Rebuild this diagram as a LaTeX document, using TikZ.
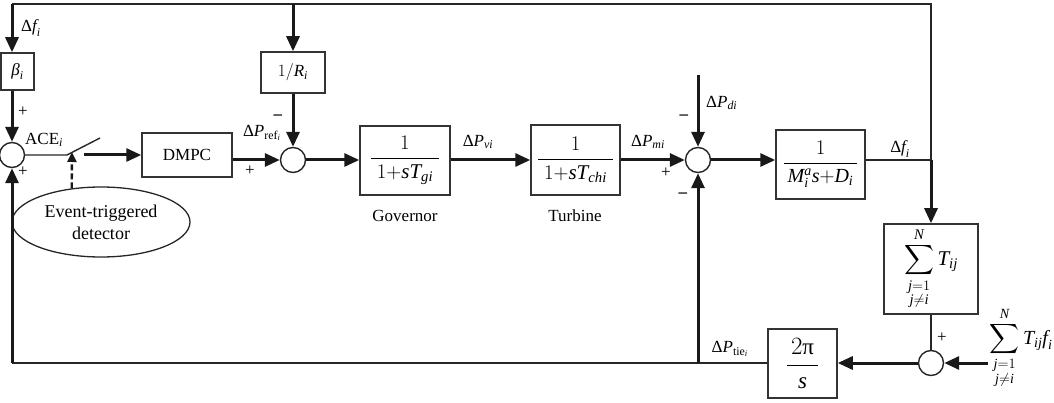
\documentclass[tikz,border=0pt]{standalone}
\usepackage{amsmath}
\usepackage{fontspec}
\setmainfont{Liberation Serif}
\usetikzlibrary{arrows.meta,shapes.geometric,calc}
\newcommand{\ti}[1]{\textit{#1}}
\begin{document}
\begin{tikzpicture}[x=1pt,y=-1pt,
  font=\fontsize{17}{20}\selectfont,
  ln/.style={draw=black!85, line width=1.4pt},
  tk/.style={draw=black!90, line width=3pt, -{Triangle[length=15pt,width=13pt]}},
  blk/.style={draw=black!80, line width=1.5pt, inner sep=0pt, fill=white},
  sumc/.style={circle, draw=black!85, line width=1.4pt, minimum size=25pt, inner sep=0pt},
  lbl/.style={inner sep=0pt},
  big/.style={font=\fontsize{21}{24}\selectfont}
]
\useasboundingbox (0,0) rectangle (1054,403);
% blocks
\node[blk, minimum width=33pt, minimum height=37pt] (beta) at (17.5,71.5) {$\ti{β}_{\ti{i}}$};
\node[sumc] (ace) at (12,155) {};
\node[blk, minimum width=90pt, minimum height=44pt] (dmpc) at (187,155) {DMPC};
\node[ellipse, draw=black!85, line width=1.3pt, minimum width=178pt, minimum height=70pt, inner sep=0pt, align=center, font=\fontsize{18}{22}\selectfont] (det) at (101,222) {Event-triggered\\detector};
\node[sumc] (s2) at (293,160) {};
\node[blk, minimum width=64pt, minimum height=41pt] (rbox) at (293,72.5) {$1/\ti{R}_{\ti{i}}$};
\node[blk, big, minimum width=90pt, minimum height=69pt] (gov) at (405,160.5) {$\dfrac{1}{\;1{+}\ti{sT}_{\ti{gi}}\;}$};
\node[lbl] (govl) at (405,216) {Governor};
\node[blk, big, minimum width=89pt, minimum height=70pt] (tur) at (575.5,160) {$\dfrac{1}{\;1{+}\ti{sT}_{\ti{chi}}\;}$};
\node[lbl] (turl) at (575,216) {Turbine};
\node[sumc] (s3) at (698,160) {};
\node[blk, minimum width=89pt, minimum height=69pt, font=\fontsize{20}{23}\selectfont] (mbox) at (820.5,164.5) {$\dfrac{1}{\,\ti{M}_{\ti{i}}^{\ti{a}}\ti{s}{+}\ti{D}_{\ti{i}}\,}$};
\node[blk, minimum width=94pt, minimum height=90pt, font=\fontsize{21}{24}\selectfont] (tbox) at (931,269) {$\displaystyle\sum_{\substack{\ti{j}=1\\ \ti{j}\neq\ti{i}}}^{\ti{N}}\ti{T}_{\ti{ij}}$};
\node[sumc] (s4) at (931,363) {};
\node[blk, minimum width=69pt, minimum height=69pt, font=\fontsize{23}{26}\selectfont] (tpi) at (802.5,363.5) {$\dfrac{\,2\text{π}\,}{\ti{s}}$};
% coordinates
\coordinate (topL) at (12,4);
\coordinate (topR) at (931,4);
\coordinate (fj) at (931,160);
\coordinate (sw) at (67,155);
\coordinate (swend) at (100,138);
\coordinate (swout) at (84,155);
\coordinate (dtip) at (72,152);
\coordinate (pd) at (698,75);
\coordinate (inR) at (988,363);
\coordinate (botL) at (12,363);
\coordinate (botM) at (698,363);
% connections
\draw[ln] (topL) -- (topR) -- (fj);
\draw[tk] (topL) -- (topL |- beta.north);
\draw[tk] (topL |- beta.south) -- (ace.north);
\draw[ln] (ace.east) -- (sw) -- (swend);
\draw[tk] (swout) -- (dmpc.west);
\draw[line width=2.4pt, draw=black!90, dash pattern=on 6pt off 3pt, -{Triangle[length=10pt,width=9pt]}] (det.131) -- (dtip);
\draw[tk] (dmpc.east |- s2) -- (s2.west);
\draw[tk] (rbox.north |- topL) -- (rbox.north);
\draw[tk] (rbox.south) -- (s2.north);
\draw[tk] (s2.east) -- (gov.west |- s2);
\draw[tk] (gov.east |- s2) -- (tur.west |- s2);
\draw[tk] (tur.east |- s2) -- (s3.west);
\draw[tk] (pd) -- (s3.north);
\draw[tk] (s3.east) -- (mbox.west |- s3);
\draw[ln] (mbox.east |- s3) -- (fj);
\draw[tk] (fj) -- (tbox.north);
\draw[ln] (tbox.south) -- (s4.north);
\draw[tk] (inR) -- (s4.east);
\draw[tk] (s4.west) -- (tpi.east |- s4);
\draw[ln] (tpi.west |- s4) -- (botL);
\draw[tk] (botL) -- (ace.south);
\draw[tk] (botM) -- (s3.south);
% labels
\node[lbl, anchor=west] (l1) at (21,28) {$\text{Δ}\ti{f}_{\ti{i}}$};
\node[lbl] (p1) at (23,112) {+};
\node[lbl, anchor=west] (l2) at (25,140) {ACE$_{\ti{i}}$};
\node[lbl] (p2) at (23,172) {+};
\node[lbl] (l3) at (262,133) {$\text{Δ}\ti{P}_{\text{ref}_{\ti{i}}}$};
\node[lbl] (p3) at (250,171) {+};
\node[lbl] (m1) at (278,117) {\textbf{–}};
\node[lbl] (l4) at (478,142) {$\text{Δ}\ti{P}_{\ti{vi}}$};
\node[lbl] (l5) at (648,142) {$\text{Δ}\ti{P}_{\ti{mi}}$};
\node[lbl] (p4) at (666,173) {+};
\node[lbl] (m2) at (684,117) {\textbf{–}};
\node[lbl] (m3) at (683,195) {\textbf{–}};
\node[lbl, anchor=west] (l6) at (706,103) {$\text{Δ}\ti{P}_{\ti{di}}$};
\node[lbl] (l7) at (900,149) {$\text{Δ}\ti{f}_{\ti{i}}$};
\node[lbl] (p5) at (942,338) {+};
\node[lbl, font=\fontsize{20}{24}\selectfont] (l8) at (1021,348) {$\displaystyle\sum_{\substack{\ti{j}=1\\ \ti{j}\neq\ti{i}}}^{\ti{N}}\ti{T}_{\ti{ij}}\ti{f}_{\ti{i}}$};
\node[lbl] (l9) at (730,349) {$\text{Δ}\ti{P}_{\text{tie}_{\ti{i}}}$};
\end{tikzpicture}
\end{document}
